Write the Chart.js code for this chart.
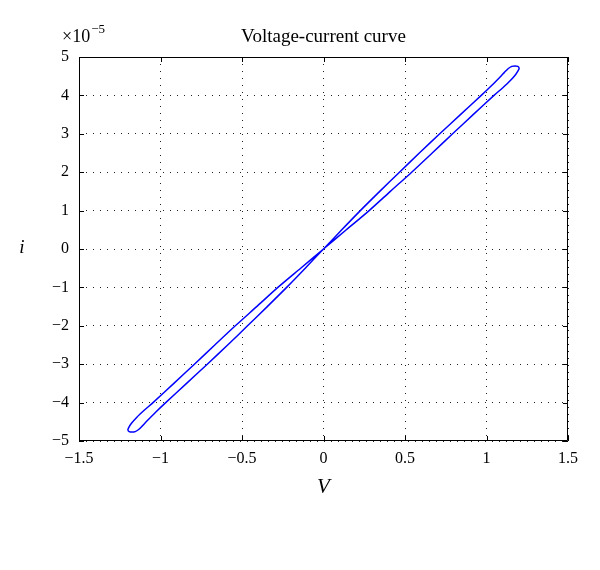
<!DOCTYPE html>
<html>
<head>
<meta charset="utf-8">
<script src="https://cdn.jsdelivr.net/npm/chart.js@4/dist/chart.umd.min.js"></script>
<style>
  html, body { margin: 0; padding: 0; background: #fff; }
  #wrap { width: 600px; height: 570px; }
</style>
</head>
<body>
<div id="wrap"><canvas id="myChart" width="600" height="570"></canvas></div>
<script>
// loop: voltage (V) and current (i, units of 1e-5 A)
const volts = [
  0, 0.14, 0.28, 0.41, 0.541, 0.667, 0.792, 0.918, 1.046, 1.1, 1.145, 1.178, 1.195, 1.2,
  1.192, 1.175, 1.155, 1.134, 1.11, 1.088, 1.03, 0.968, 0.84, 0.713, 0.588, 0.466, 0.345, 0.226, 0.112, 0,
  -0.112, -0.226, -0.345, -0.466, -0.588, -0.713, -0.84, -0.968, -1.03, -1.088, -1.11, -1.134, -1.155, -1.175,
  -1.192, -1.2, -1.195, -1.178, -1.145, -1.1, -1.046, -0.918, -0.792, -0.667, -0.541, -0.41, -0.28, -0.14, 0
];
const current = [
  0, 0.5, 1, 1.5, 2, 2.5, 3, 3.5, 4, 4.2, 4.38, 4.54, 4.65, 4.71,
  4.755, 4.768, 4.755, 4.7, 4.6, 4.5, 4.25, 4, 3.5, 3, 2.5, 2, 1.5, 1, 0.5, 0,
  -0.5, -1, -1.5, -2, -2.5, -3, -3.5, -4, -4.25, -4.5, -4.6, -4.7, -4.755, -4.768,
  -4.755, -4.71, -4.65, -4.54, -4.38, -4.2, -4, -3.5, -3, -2.5, -2, -1.5, -1, -0.5, 0
];

const xTicks = [-1.5, -1, -0.5, 0, 0.5, 1, 1.5];
const xTickLabels = ['\u22121.5', '\u22121', '\u22120.5', '0', '0.5', '1', '1.5'];
const yTicks = [-5, -4, -3, -2, -1, 0, 1, 2, 3, 4, 5];
const yTickLabels = ['\u22125', '\u22124', '\u22123', '\u22122', '\u22121', '0', '1', '2', '3', '4', '5'];

const serif = "'Liberation Serif', 'DejaVu Serif', serif";

// box round the plot, inward tick marks on all sides and the loose texts
const matlabFrame = {
  id: 'matlabFrame',
  afterDraw: (chart) => {
    const ctx = chart.ctx;
    const a = chart.chartArea;
    const xs = chart.scales.x;
    const ys = chart.scales.y;
    const tl = 5;

    ctx.save();
    ctx.strokeStyle = '#000';
    ctx.lineWidth = 1;
    ctx.beginPath();
    ctx.rect(a.left + 0.5, a.top + 0.5, a.right - a.left - 1, a.bottom - a.top - 1);
    ctx.stroke();

    ctx.beginPath();
    xTicks.forEach(v => {
      const px = Math.round(xs.getPixelForValue(v)) + 0.5;
      ctx.moveTo(px, a.bottom);
      ctx.lineTo(px, a.bottom - tl);
      ctx.moveTo(px, a.top);
      ctx.lineTo(px, a.top + tl);
    });
    yTicks.forEach(v => {
      const py = Math.round(ys.getPixelForValue(v)) + 0.5;
      ctx.moveTo(a.left, py);
      ctx.lineTo(a.left + tl, py);
      ctx.moveTo(a.right, py);
      ctx.lineTo(a.right - tl, py);
    });
    ctx.stroke();

    ctx.fillStyle = '#000';
    ctx.textBaseline = 'alphabetic';

    ctx.font = '19px ' + serif;
    ctx.textAlign = 'center';
    ctx.fillText('Voltage-current curve', (a.left + a.right) / 2, 42);

    ctx.textAlign = 'left';
    ctx.font = '18px ' + serif;
    ctx.fillText('\u00d710', 62, 42);
    const w = ctx.measureText('\u00d710').width;
    ctx.font = '13px ' + serif;
    ctx.fillText('\u22125', 62 + w + 1, 33);

    ctx.textAlign = 'center';
    ctx.font = 'italic 21px ' + serif;
    ctx.fillText('V', (a.left + a.right) / 2, 493);
    ctx.font = 'italic 19px ' + serif;
    ctx.fillText('i', 22, 253);
    ctx.restore();
  }
};

const points = volts.map((v, k) => ({ x: v, y: current[k] }));

const data = {
  datasets: [
    {
      data: points,
      showLine: true,
      borderColor: '#0000ff',
      borderWidth: 1.5,
      pointRadius: 0,
      tension: 0.25,
      fill: false,
    }
  ]
};

const config = {
  type: 'scatter',
  data: data,
  options: {
    responsive: false,
    animation: false,
    layout: {
      padding: { top: 57, right: 32, left: 0, bottom: 0 }
    },
    plugins: {
      legend: { display: false },
      tooltip: { enabled: false },
      title: { display: false }
    },
    scales: {
      x: {
        type: 'linear',
        min: -1.5,
        max: 1.5,
        afterBuildTicks: (s) => { s.ticks = xTicks.map(v => ({ value: v })); },
        afterFit: (s) => { s.height = 129; },
        border: { display: false, dash: [1, 6] },
        grid: { color: '#222', lineWidth: 1, drawTicks: false },
        ticks: {
          color: '#000',
          padding: 8,
          maxRotation: 0,
          autoSkip: false,
          font: { family: serif, size: 16 },
          callback: (v, idx) => xTickLabels[idx]
        }
      },
      y: {
        type: 'linear',
        min: -5,
        max: 5,
        afterBuildTicks: (s) => { s.ticks = yTicks.map(v => ({ value: v })); },
        afterFit: (s) => { s.width = 79; },
        border: { display: false, dash: [1, 6] },
        grid: { color: '#222', lineWidth: 1, drawTicks: false },
        ticks: {
          color: '#000',
          padding: 10,
          autoSkip: false,
          font: { family: serif, size: 16 },
          callback: (v, idx) => yTickLabels[idx]
        }
      }
    }
  },
  plugins: [matlabFrame]
};

const ctx = document.getElementById('myChart');
const myChart = new Chart(ctx, config);
</script>
</body>
</html>
